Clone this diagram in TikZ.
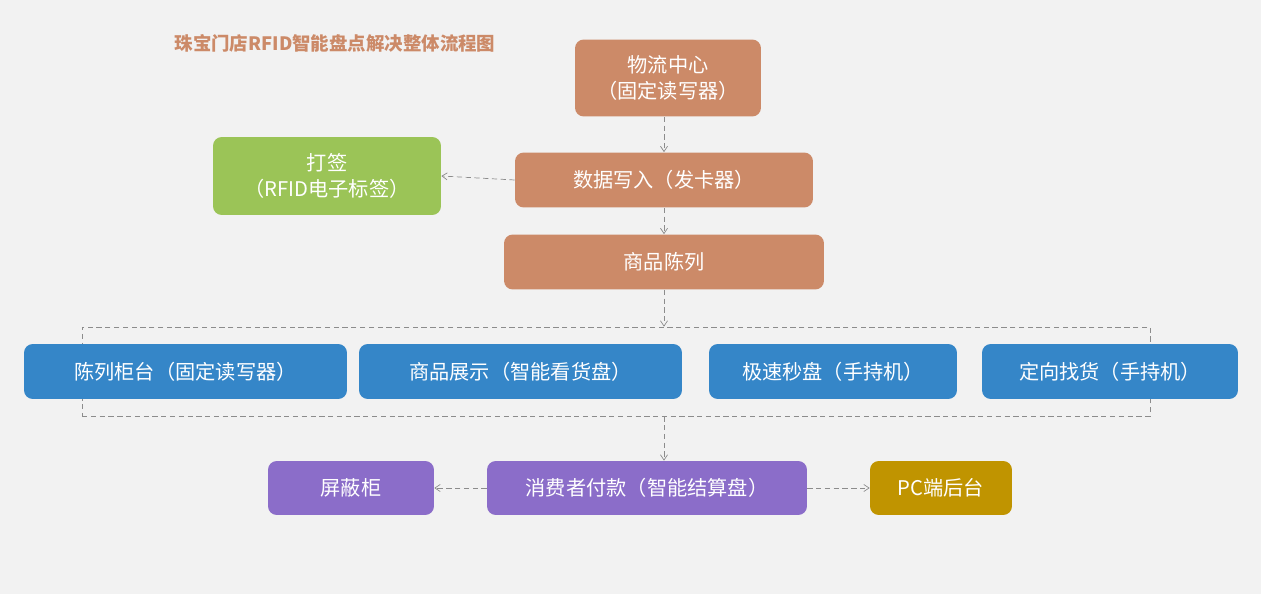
\documentclass[tikz,border=0pt]{standalone}
\usepackage{fontspec}
\setmainfont{Noto Sans CJK SC}
\usetikzlibrary{arrows.meta}
\definecolor{bg}{HTML}{F2F2F2}
\definecolor{brown}{HTML}{CC8A68}
\definecolor{leaf}{HTML}{9BC457}
\definecolor{sea}{HTML}{3586C8}
\definecolor{lilac}{HTML}{8B6DC9}
\definecolor{gold}{HTML}{C09400}
\definecolor{flow}{HTML}{8C8C8C}
\tikzset{
  box/.style={rounded corners=5pt, text=white, align=center, inner sep=0pt,
    font=\fontsize{11.5}{15}\selectfont},
  flowline/.style={-{Straight Barb[length=3pt,width=4pt]}, draw=flow, densely dashed, line width=0.4pt}
}
\begin{document}
\begin{tikzpicture}[x=0.02cm,y=-0.02cm]
  \fill[bg](0,0)rectangle(1261,594);
  \node[text=brown, font=\bfseries\fontsize{10.5}{12}\selectfont] (title) at (335,43) {珠宝门店RFID智能盘点解决整体流程图};
  \node[box, fill=brown, minimum width=3.72cm, minimum height=1.54cm] (hub) at (668,78) {物流中心\\（固定读写器）};
  \node[box, fill=brown, minimum width=5.96cm, minimum height=1.1cm] (write) at (664,180) {数据写入（发卡器）};
  \node[box, fill=leaf, minimum width=4.56cm, minimum height=1.56cm] (tag) at (327,176) {打签\\（RFID电子标签）};
  \node[box, fill=brown, minimum width=6.4cm, minimum height=1.1cm] (show) at (664,262) {商品陈列};
  \node[draw=flow, densely dashed, minimum width=21.36cm, minimum height=1.78cm, inner sep=0pt] (group) at (616,371.5) {};
  \node[box, fill=sea, minimum width=6.46cm, minimum height=1.1cm] (counter) at (185.5,371.5) {陈列柜台（固定读写器）};
  \node[box, fill=sea, minimum width=6.46cm, minimum height=1.1cm] (display) at (520.5,371.5) {商品展示（智能看货盘）};
  \node[box, fill=sea, minimum width=4.96cm, minimum height=1.1cm] (quick) at (833,371.5) {极速秒盘（手持机）};
  \node[box, fill=sea, minimum width=5.12cm, minimum height=1.1cm] (find) at (1110,371.5) {定向找货（手持机）};
  \node[box, fill=lilac, minimum width=6.4cm, minimum height=1.08cm] (pay) at (647,488) {消费者付款（智能结算盘）};
  \node[box, fill=lilac, minimum width=3.32cm, minimum height=1.08cm] (shield) at (351,488) {屏蔽柜};
  \node[box, fill=gold, minimum width=2.84cm, minimum height=1.08cm] (pc) at (941,488) {PC端后台};
  \draw[flowline] (hub.south -| 664,0) -- (write.north);
  \draw[flowline] (write.west) -- (tag.east);
  \draw[flowline] (write.south) -- (show.north);
  \draw[flowline] (show.south) -- (show.south |- group.north);
  \draw[flowline] (group.south -| 664,0) -- (pay.north -| 664,0);
  \draw[flowline] (pay.west) -- (shield.east);
  \draw[flowline] (pay.east) -- (pc.west);
\end{tikzpicture}
\end{document}
